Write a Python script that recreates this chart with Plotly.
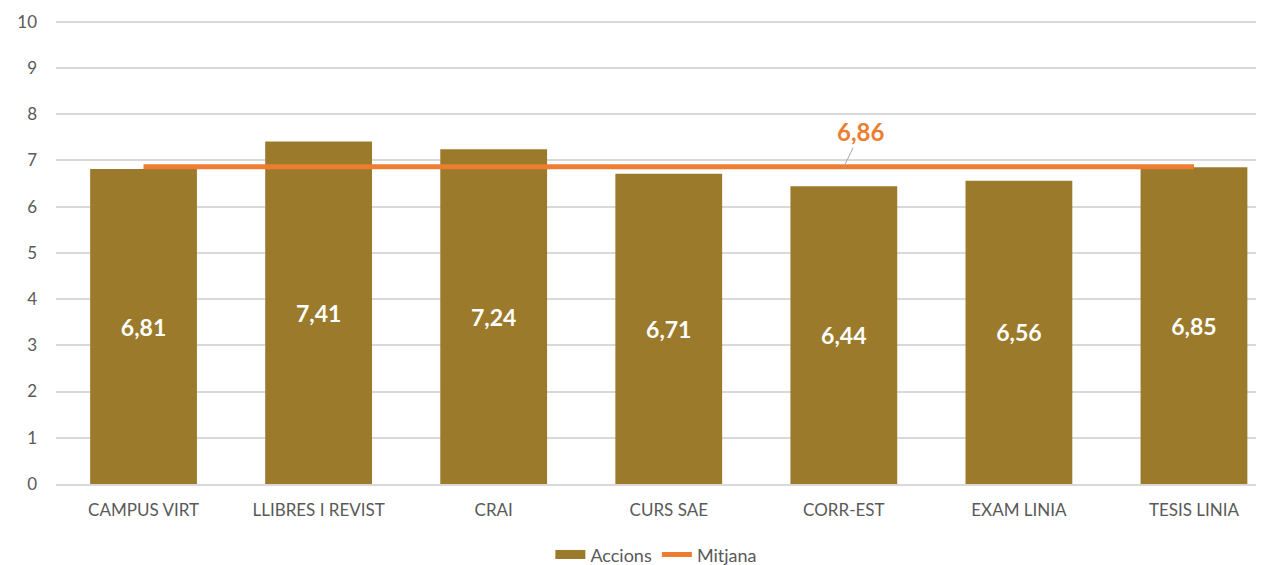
import plotly.graph_objects as go

# Dades del gràfic
categories = ['CAMPUS VIRT', 'LLIBRES I REVIST', 'CRAI', 'CURS SAE', 'CORR-EST', 'EXAM LINIA', 'TESIS LINIA']
accions = [6.81, 7.41, 7.24, 6.71, 6.44, 6.56, 6.85]
mitjana = [6.86, 6.86, 6.86, 6.86, 6.86, 6.86, 6.86]
y_ticks = [0, 1, 2, 3, 4, 5, 6, 7, 8, 9, 10]

color_barres = '#9B7A2C'
color_mitjana = '#ED7D31'
font_familia = 'Lato'

fig = go.Figure()

fig.add_trace(go.Bar(
    x=categories,
    y=accions,
    name='Accions',
    showlegend=False,
    marker=dict(color=color_barres, line=dict(width=0)),
    width=0.61,
    text=[f'{v:.2f}'.replace('.', ',') for v in accions],
    textposition='inside',
    insidetextanchor='middle',
    textfont=dict(color='white', size=23, family=font_familia, weight='bold'),
))

# entrada de llegenda amb mostra rectangular ampla
fig.add_trace(go.Scatter(
    x=[None], y=[None],
    name='Accions',
    mode='lines',
    line=dict(color=color_barres, width=9),
))

fig.add_trace(go.Scatter(
    x=categories,
    y=mitjana,
    name='Mitjana',
    mode='lines',
    line=dict(color=color_mitjana, width=5),
))

# Etiqueta de la mitjana
fig.add_annotation(
    x='CORR-EST', y=mitjana[4],
    text=f'{mitjana[4]:.2f}'.replace('.', ','),
    showarrow=True, arrowhead=0, arrowwidth=1, arrowcolor='#A6A6A6',
    ax=17, ay=-35,
    font=dict(color=color_mitjana, size=24, family=font_familia, weight='bold'),
)

# la pàgina té 8px de marge al body: es compensa als marges
fig.update_layout(
    width=1264, height=565,
    margin=dict(l=48, r=8, t=9, b=89),
    plot_bgcolor='white',
    paper_bgcolor='white',
    font=dict(family=font_familia, size=17, color='#595959'),
    legend=dict(orientation='h', x=0.497, xanchor='center', yref='container',
                y=0.032, yanchor='middle',
                font=dict(size=18, color='#595959'), tracegroupgap=0),
    xaxis=dict(range=[-0.5, 6.4], showgrid=False, ticks='', showline=True,
               linecolor='#D9D9D9', linewidth=2, tickfont=dict(size=17),
               ticklabelstandoff=10, automargin=False),
    yaxis=dict(range=[0, 10.1], tickvals=y_ticks, showgrid=True, gridcolor='#D9D9D9',
               gridwidth=1.5, zeroline=False, ticks='', tickfont=dict(size=17),
               ticklabelstandoff=18, automargin=False),
)

fig.write_html("out.html")
